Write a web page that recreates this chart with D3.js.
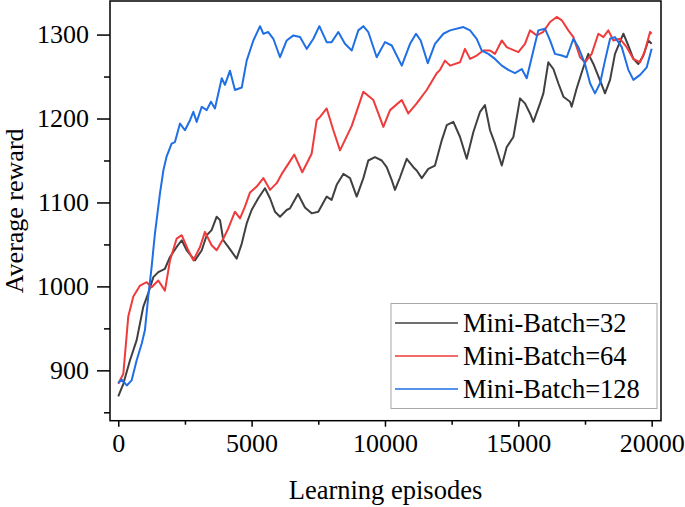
<!DOCTYPE html>
<html>
<head>
<meta charset="utf-8">
<script src="https://cdn.jsdelivr.net/npm/d3@7/dist/d3.min.js"></script>
<style>
  html, body { margin: 0; padding: 0; background: #fff; }
  svg { display: block; }
  text { font-family: "Liberation Serif", "Times New Roman", serif; fill: #000; }
</style>
</head>
<body>
<svg id="chart" width="685" height="507"></svg>
<script>
// ---------- data ----------
const seriesNames = ["Mini-Batch=32", "Mini-Batch=64", "Mini-Batch=128"];
const seriesColors = ["#404040", "#ef3b3b", "#1f6fe5"];

const xTicks = [0, 5000, 10000, 15000, 20000];
const yTicks = [900, 1000, 1100, 1200, 1300];

// [episode, average reward]
const batch32 = [
  [0,869],[190,884],[440,912],[690,936],[940,976],[1125,992],[1315,1011],[1500,1017],
  [1750,1021],[1940,1035],[2190,1047],[2380,1055],[2565,1043],[2875,1031],[3130,1043],
  [3315,1061],[3500,1067],[3690,1083],[3815,1079],[3940,1055],[4125,1047],[4440,1033],
  [4630,1051],[4815,1075],[5000,1091],[5250,1105],[5500,1117],[5690,1105],[5875,1089],
  [6065,1083],[6315,1091],[6440,1093],[6740,1110],[7000,1094],[7250,1087],[7500,1089],
  [7815,1107],[8000,1103],[8190,1121],[8440,1134],[8690,1129],[8940,1107],[9190,1129],
  [9375,1150],[9625,1154],[9880,1150],[10065,1142],[10250,1127],[10375,1115],[10565,1130],
  [10815,1152],[11065,1142],[11190,1138],[11380,1129],[11625,1140],[11875,1144],[12130,1174],
  [12315,1192],[12565,1196],[12815,1178],[13065,1152],[13315,1184],[13565,1208],[13750,1216],
  [13940,1186],[14125,1170],[14380,1144],[14565,1166],[14815,1178],[15065,1224],[15250,1218],
  [15440,1206],[15565,1196],[15815,1218],[15940,1230],[16125,1267],[16315,1259],[16500,1242],
  [16690,1226],[16940,1220],[17000,1214],[17190,1236],[17440,1261],[17625,1277],[17815,1265],
  [18130,1240],[18250,1230],[18440,1246],[18625,1277],[18940,1301],[19125,1287],[19315,1271],
  [19500,1265],[19690,1275],[19875,1293],[20000,1289]
];

const batch64 = [
  [0,884],[190,896],[375,964],[565,988],[815,1001],[1065,1005],[1250,999],[1500,1007],
  [1750,995],[1940,1031],[2190,1057],[2380,1061],[2625,1043],[2815,1031],[3065,1047],
  [3250,1065],[3500,1049],[3690,1043],[3940,1057],[4125,1069],[4375,1089],[4565,1081],
  [4750,1095],[4940,1112],[5190,1119],[5440,1129],[5690,1115],[5940,1123],[6130,1134],
  [6375,1146],[6600,1157],[6900,1136],[7250,1158],[7440,1198],[7565,1202],[7815,1212],
  [8065,1186],[8315,1162],[8750,1191],[9190,1232],[9565,1222],[9940,1190],[10190,1210],
  [10630,1222],[10875,1206],[11190,1218],[11565,1234],[11940,1254],[12065,1258],[12250,1269],
  [12440,1263],[12815,1267],[13000,1283],[13190,1271],[13440,1275],[13690,1281],[13940,1281],
  [14125,1277],[14380,1293],[14565,1285],[15000,1279],[15250,1289],[15440,1305],[15690,1299],
  [15925,1303],[16190,1315],[16440,1321],[16630,1317],[16875,1305],[17065,1297],[17315,1273],
  [17500,1267],[17750,1277],[18000,1301],[18190,1297],[18375,1305],[18565,1293],[18815,1295],
  [19065,1285],[19315,1271],[19565,1267],[19750,1281],[19940,1303],[20000,1301]
];

const batch128 = [
  [0,885],[130,889],[320,882],[500,888],[690,912],[880,932],[1000,948],[1125,988],
  [1250,1023],[1375,1063],[1565,1111],[1690,1138],[1815,1155],[2000,1170],[2125,1172],
  [2315,1194],[2500,1186],[2690,1198],[2815,1208],[2940,1196],[3130,1214],[3315,1210],
  [3475,1220],[3625,1212],[3880,1248],[4000,1240],[4190,1257],[4375,1234],[4630,1237],
  [4815,1269],[5065,1293],[5315,1310],[5440,1301],[5625,1303],[5815,1295],[6065,1273],
  [6315,1293],[6565,1299],[6815,1297],[7065,1283],[7315,1295],[7540,1310],[7815,1291],
  [8000,1291],[8250,1303],[8500,1289],[8755,1281],[9000,1305],[9190,1310],[9375,1303],
  [9690,1273],[10000,1291],[10255,1287],[10630,1263],[10940,1289],[11165,1301],[11340,1293],
  [11605,1266],[11875,1289],[12190,1301],[12440,1305],[12940,1309],[13190,1305],[13440,1295],
  [13630,1281],[13875,1277],[14125,1271],[14380,1263],[14625,1258],[14875,1254],[15130,1259],
  [15315,1248],[15565,1281],[15750,1305],[16000,1307],[16190,1293],[16375,1277],[16630,1275],
  [16815,1273],[17065,1295],[17250,1285],[17500,1265],[17690,1242],[17875,1230],[18065,1242],
  [18250,1269],[18440,1295],[18625,1297],[18880,1285],[19125,1258],[19315,1246],[19565,1252],
  [19815,1261],[20000,1283]
];

const allSeries = [batch32, batch64, batch128];

// ---------- layout ----------
const svg = d3.select("#chart");
const mLeft = 110, mRight = 661, mTop = 1, mBottom = 420.7;

const x = d3.scaleLinear().domain([-310, 20350]).range([mLeft, mRight]);
const y = d3.scaleLinear().domain([840, 1340]).range([mBottom, mTop]);

// lines
const line = d3.line().x(d => x(d[0])).y(d => y(d[1]));
const plot = svg.append("g");
allSeries.forEach((s, i) => {
  plot.append("path")
    .datum(s)
    .attr("fill", "none")
    .attr("stroke", seriesColors[i])
    .attr("stroke-width", 2)
    .attr("stroke-linejoin", "round")
    .attr("d", line);
});

// frame
svg.append("rect")
  .attr("x", mLeft).attr("y", mTop)
  .attr("width", mRight - mLeft).attr("height", mBottom - mTop)
  .attr("fill", "none").attr("stroke", "#000").attr("stroke-width", 1.5);

// x axis
const xAxis = d3.axisBottom(x).tickValues(xTicks).tickSize(6).tickPadding(6).tickFormat(d3.format("d"));
const gx = svg.append("g").attr("transform", `translate(0,${mBottom})`).call(xAxis);
gx.select(".domain").remove();
gx.selectAll("line").attr("stroke", "#000").attr("stroke-width", 1.5);
gx.selectAll("text").attr("font-size", 26).attr("font-family", "Liberation Serif").attr("dy", "0.73em");
const xMinor = d3.axisBottom(x).tickValues([2500, 7500, 12500, 17500]).tickSize(4).tickFormat("");
const gxm = svg.append("g").attr("transform", `translate(0,${mBottom})`).call(xMinor);
gxm.select(".domain").remove();
gxm.selectAll("line").attr("stroke", "#000").attr("stroke-width", 1.5);

// y axis
const yAxis = d3.axisLeft(y).tickValues(yTicks).tickSize(13).tickPadding(8).tickFormat(d3.format("d"));
const gy = svg.append("g").attr("transform", `translate(${mLeft},0)`).call(yAxis);
gy.select(".domain").remove();
gy.selectAll("line").attr("stroke", "#000").attr("stroke-width", 1.5);
gy.selectAll("text").attr("font-size", 26).attr("font-family", "Liberation Serif");
const yMinor = d3.axisLeft(y).tickValues([850, 950, 1050, 1150, 1250]).tickSize(6).tickFormat("");
const gym = svg.append("g").attr("transform", `translate(${mLeft},0)`).call(yMinor);
gym.select(".domain").remove();
gym.selectAll("line").attr("stroke", "#000").attr("stroke-width", 1.5);

// axis titles
svg.append("text")
  .attr("x", (mLeft + mRight) / 2).attr("y", 499)
  .attr("text-anchor", "middle").attr("font-size", 26.5)
  .text("Learning episodes");
svg.append("text")
  .attr("transform", `translate(23,${(mTop + mBottom) / 2}) rotate(-90)`)
  .attr("text-anchor", "middle").attr("font-size", 26)
  .text("Average reward");

// legend
const lg = svg.append("g");
lg.append("rect")
  .attr("x", 391).attr("y", 303.5).attr("width", 266).attr("height", 105)
  .attr("fill", "#fff").attr("stroke", "#a8a8a8").attr("stroke-width", 1);
seriesNames.forEach((name, i) => {
  const yy = 323 + i * 33;
  lg.append("line")
    .attr("x1", 395).attr("x2", 458).attr("y1", yy).attr("y2", yy)
    .attr("stroke", seriesColors[i]).attr("stroke-width", 1.5);
  lg.append("text")
    .attr("x", 463).attr("y", yy).attr("dy", "0.33em")
    .attr("font-size", 26.5)
    .text(name);
});
</script>
</body>
</html>
